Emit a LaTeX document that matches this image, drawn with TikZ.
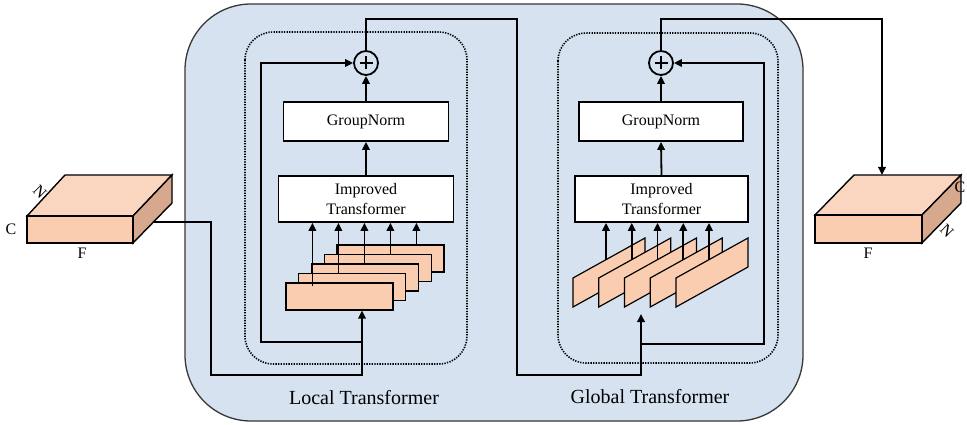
\documentclass[tikz,border=0pt]{standalone}
\usepackage{fontspec}
\setmainfont{Liberation Serif}
\usetikzlibrary{arrows.meta,calc}
\definecolor{bgblue}{RGB}{214,226,240}
\definecolor{peach}{RGB}{251,205,176}
\definecolor{peachtop}{RGB}{250,214,192}
\definecolor{peachside}{RGB}{214,168,142}
\definecolor{framegray}{RGB}{55,55,55}
\begin{document}
\begin{tikzpicture}[x=1pt,y=-1pt,line join=miter,
  conn/.style={line width=1.8pt},
  arr/.style={conn,-{Triangle[length=8pt,width=7.5pt]}},
  blk/.style={draw,line width=1.8pt,fill=white,align=center,inner sep=0pt,
    font=\fontsize{16}{20}\selectfont},
  plusnode/.style={circle,draw,line width=1.8pt,minimum size=24pt,inner sep=0pt,
    path picture={\draw[line width=1.9pt]
      ([xshift=-6.5pt]path picture bounding box.center) -- ([xshift=6.5pt]path picture bounding box.center)
      ([yshift=-6.5pt]path picture bounding box.center) -- ([yshift=6.5pt]path picture bounding box.center);}},
  slice/.style={draw,line width=1.2pt,fill=peach,minimum width=107pt,minimum height=27pt,inner sep=0pt},
  para/.style={draw,line width=1.2pt,fill=peach},
  face/.style={draw,line width=1.4pt},
  lbl/.style={font=\fontsize{16}{18}\selectfont,inner sep=0pt},
  title/.style={font=\fontsize{20}{22}\selectfont,inner sep=0pt},
  dotbox/.style={line width=1.6pt,dash pattern=on 1.3pt off 1.3pt,rounded corners=28pt}]
\useasboundingbox (0,0) rectangle (967,425);

% outer container
\draw[fill=bgblue,draw=framegray,line width=1.3pt,rounded corners=66pt] (185,4) rectangle (803,421);

% dotted groups
\draw[dotbox] (245,32) rectangle (467,364);
\draw[dotbox] (558,33) rectangle (778,363);

% ---------------- input tensor ----------------
\coordinate (ia) at (27,216);
\coordinate (ib) at (133,216);
\coordinate (ic) at (133,243);
\coordinate (id) at (27,243);
\coordinate (ie) at (65,175);
\coordinate (iff) at (172,175);
\coordinate (ig) at (172,203);
\draw[face,fill=peachtop] (ia) -- (ie) -- (iff) -- (ib) -- cycle;
\draw[face,fill=peachside] (ib) -- (iff) -- (ig) -- (ic) -- cycle;
\draw[face,fill=peach] (ia) rectangle (ic);
\node[lbl] (cL) at (11,229) {C};
\node[lbl] (fL) at (82,253) {F};
\node[lbl,rotate=-45] (nL) at (40,192) {N};
\coordinate (inL) at (154,222);

% ---------------- output tensor ----------------
\coordinate (oa) at (815,215);
\coordinate (ob) at (922,215);
\coordinate (oc) at (922,243);
\coordinate (od) at (815,243);
\coordinate (oe) at (854,175);
\coordinate (off) at (961,175);
\coordinate (og) at (961,203);
\draw[face,fill=peachtop] (oa) -- (oe) -- (off) -- (ob) -- cycle;
\draw[face,fill=peachside] (ob) -- (off) -- (og) -- (oc) -- cycle;
\draw[face,fill=peach] (oa) rectangle (oc);
\node[lbl] (cR) at (960,187) {C};
\node[lbl] (fR) at (868,253) {F};
\node[lbl,rotate=-45] (nR) at (947,231) {N};
\coordinate (outtop) at (882,175);

% ---------------- local transformer ----------------
\node[plusnode] (pl) at (366,63) {};
\node[blk,minimum width=165pt,minimum height=39pt] (gnL) at (366,121.5) {GroupNorm};
\node[blk,minimum width=175pt,minimum height=46pt] (itL) at (366,199) {Improved\\Transformer};
\foreach \k in {4,3,2,1,0}{
  \pgfmathsetmacro{\cx}{286+12.75*\k+53.5}
  \pgfmathsetmacro{\cy}{283-9.5*\k+13.5}
  \node[slice] (sb\k) at (\cx,\cy) {};
}
\foreach \k in {0,...,4}{
  \pgfmathsetmacro{\off}{27+13.25*\k}
  \pgfmathsetmacro{\dy}{\k==0 ? 4 : 0}
  \coordinate (sa\k) at ([xshift=\off pt,yshift=-\dy pt]sb\k.north west);
  \draw[arr] (sa\k) -- (sa\k |- itL.south);
}
\draw[arr] (itL.north) -- (gnL.south);
\draw[arr] (gnL.north) -- (pl.south);

% ---------------- global transformer ----------------
\node[plusnode] (pr) at (661,63) {};
\node[blk,minimum width=164pt,minimum height=39pt] (gnR) at (661,121.5) {GroupNorm};
\node[blk,minimum width=173pt,minimum height=46pt] (itR) at (661.5,199) {Improved\\Transformer};
\foreach \k in {0,...,4}{
  \pgfmathsetmacro{\lx}{573+25.75*\k}
  \draw[para] (\lx,278) -- (\lx+72,238) -- (\lx+72,267) -- (\lx,307) -- cycle;
}
\foreach \k in {0,...,4}{
  \pgfmathsetmacro{\ax}{573+25.75*\k+33}
  \coordinate (pa\k) at (\ax,259.7);
  \draw[arr] (pa\k) -- (pa\k |- itR.south);
}
\draw[arr] (itR.north) -- (gnR.south);
\draw[arr] (gnR.north) -- (pr.south);

% ---------------- connectors ----------------
\coordinate (inLb) at ([xshift=22.5pt]sb0.south);
\coordinate (jL) at (inLb |- 0,342);
\draw[arr] (inL) -- (211,222) |- (inLb |- 0,375) -- (inLb);
\draw[arr] (jL) -| ($(pl.west)+(-92,0)$) -- (pl.west);

\coordinate (inR) at (641,314);
\coordinate (jR) at (641,344);
\draw[arr] (pl.north) |- (517,19) -- (517,375) -| (inR);
\draw[arr] (jR) -| ($(pr.east)+(90,0)$) -- (pr.east);

\draw[arr] (pr.north) |- (outtop |- 0,19) -- (outtop);

% titles
\node[title] (tL) at (364,398) {Local Transformer};
\node[title] (tR) at (650,397) {Global Transformer};
\end{tikzpicture}
\end{document}
